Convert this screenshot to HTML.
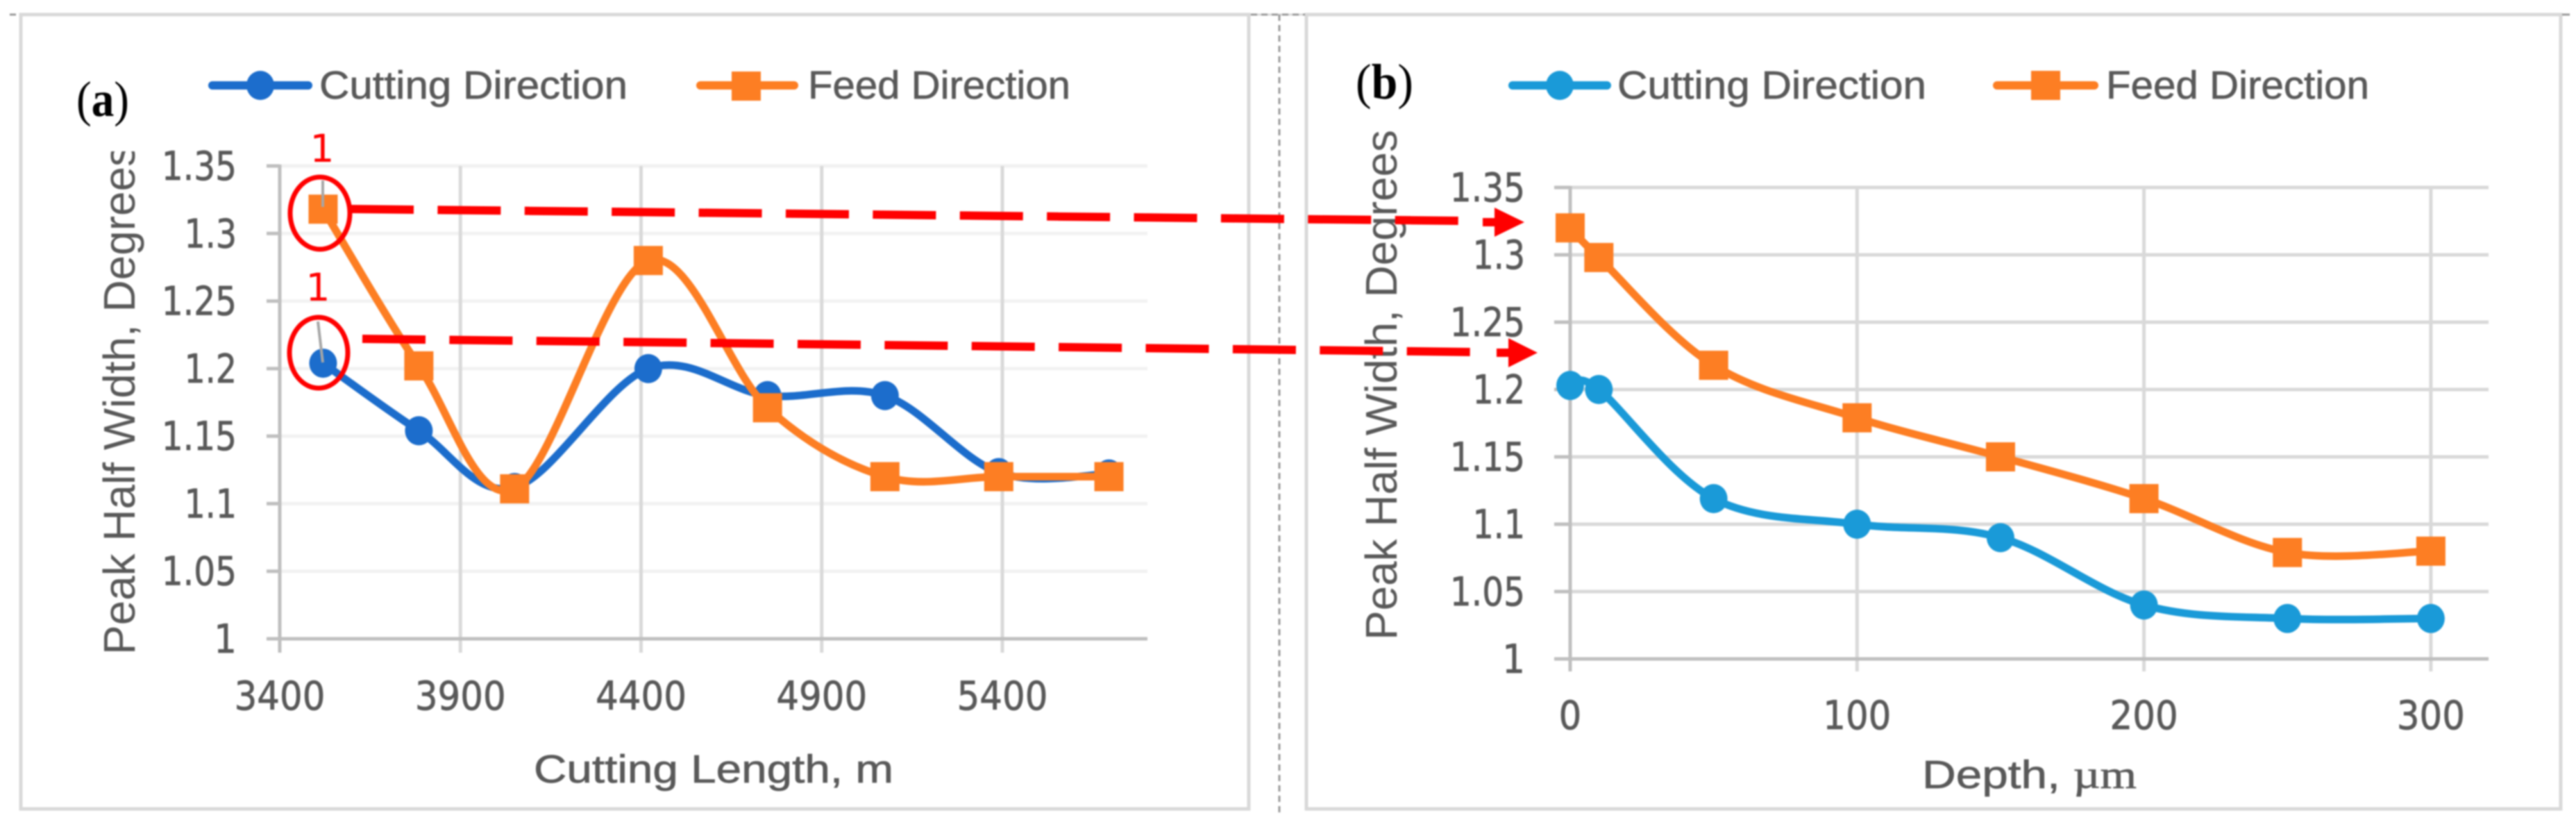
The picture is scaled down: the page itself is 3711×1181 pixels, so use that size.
<!DOCTYPE html>
<html lang="en">
<head>
<meta charset="utf-8">
<title>Peak half width vs cutting length and depth</title>
<style>
html,body{margin:0;padding:0;background:#fff;overflow:hidden;}
svg{display:block;filter:blur(1px);}
text{fill:#595959;font-family:"Liberation Sans",sans-serif;}
.tick{font-family:"DejaVu Sans","Liberation Sans",sans-serif;font-size:57px;stroke:#595959;stroke-width:0.8px;}
.heavy{stroke:#595959;stroke-width:0.7px;}
</style>
</head>
<body>
<svg id="figure" xmlns="http://www.w3.org/2000/svg" width="3711" height="1181" viewBox="0 0 3711 1181">
  <defs>
    <clipPath id="clip-title-a"><rect x="100" y="218" width="120" height="760"/></clipPath>
  </defs>
  <rect width="3711" height="1181" fill="#fff"/>

  <!-- panel frames -->
  <rect x="30" y="21" width="1769" height="1144" fill="none" stroke="#d9d9d9" stroke-width="5"/>
  <rect x="1882" y="21" width="1807" height="1144" fill="none" stroke="#d9d9d9" stroke-width="5"/>
  <line x1="1799" y1="21" x2="1882" y2="21" stroke="#d9d9d9" stroke-width="3"/>
  <line x1="14" y1="21" x2="23" y2="21" stroke="#999" stroke-width="3"/>
  <line x1="3691" y1="21" x2="3702" y2="21" stroke="#999" stroke-width="3"/>
  <line x1="1843" y1="21" x2="1843" y2="1170" stroke="#999" stroke-width="3" stroke-dasharray="9 6"/>
  <line x1="1802" y1="21" x2="1880" y2="21" stroke="#999" stroke-width="3" stroke-dasharray="9 6"/>

  <g id="chart-a"></g>
  <g id="chart-b"></g>

  <!-- y axis titles -->
  <g clip-path="url(#clip-title-a)">
    <text transform="translate(194,943) rotate(-90)" font-size="64" textLength="735" lengthAdjust="spacingAndGlyphs">Peak Half Width, Degrees</text>
  </g>
  <text transform="translate(2012,922) rotate(-90)" font-size="64" textLength="735" lengthAdjust="spacingAndGlyphs">Peak Half Width, Degrees</text>

  <!-- x axis titles -->
  <text class="heavy" x="769" y="1127" font-size="57" textLength="518" lengthAdjust="spacingAndGlyphs">Cutting Length, m</text>
  <text class="heavy" x="2769" y="1135" font-size="57" textLength="309" lengthAdjust="spacingAndGlyphs">Depth, <tspan font-family="Liberation Serif, serif">µm</tspan></text>

  <!-- panel labels -->
  <text x="110" y="167" font-size="72" textLength="76" lengthAdjust="spacingAndGlyphs" style="font-family:'Liberation Serif',serif;fill:#000">(<tspan font-weight="bold">a</tspan>)</text>
  <text x="1953" y="142" font-size="72" textLength="83" lengthAdjust="spacingAndGlyphs" style="font-family:'Liberation Serif',serif;fill:#000">(<tspan font-weight="bold">b</tspan>)</text>

  <!-- legends -->
  <g>
    <g>
      <line x1="306" y1="123" x2="444" y2="123" stroke="#1c6dcc" stroke-width="12" stroke-linecap="round"/>
      <ellipse cx="375" cy="123" rx="20" ry="21" fill="#1c6dcc"/>
      <text class="heavy" x="460" y="142" font-size="57" textLength="444" lengthAdjust="spacingAndGlyphs">Cutting Direction</text>
    </g>
    <g>
      <line x1="1009" y1="123" x2="1144" y2="123" stroke="#fd7e23" stroke-width="12" stroke-linecap="round"/>
      <rect x="1054" y="103" width="42" height="42" fill="#fd7e23"/>
      <text class="heavy" x="1164" y="142" font-size="57" textLength="378" lengthAdjust="spacingAndGlyphs">Feed Direction</text>
    </g>
  </g>
  <g>
    <g>
      <line x1="2179" y1="123" x2="2315" y2="123" stroke="#1a9ad8" stroke-width="12" stroke-linecap="round"/>
      <ellipse cx="2247" cy="123" rx="20" ry="21" fill="#1a9ad8"/>
      <text class="heavy" x="2330" y="142" font-size="57" textLength="445" lengthAdjust="spacingAndGlyphs">Cutting Direction</text>
    </g>
    <g>
      <line x1="2877" y1="123" x2="3017" y2="123" stroke="#fd7e23" stroke-width="12" stroke-linecap="round"/>
      <rect x="2926" y="102" width="42" height="42" fill="#fd7e23"/>
      <text class="heavy" x="3034" y="142" font-size="57" textLength="379" lengthAdjust="spacingAndGlyphs">Feed Direction</text>
    </g>
  </g>

  <!-- annotations -->
  <g>
    <line x1="465" y1="260" x2="465" y2="298" stroke="#a6a6a6" stroke-width="4"/>
    <line x1="458" y1="463" x2="465" y2="522" stroke="#a6a6a6" stroke-width="4"/>
    <ellipse cx="461" cy="307" rx="43" ry="52" fill="none" stroke="#ff0000" stroke-width="7"/>
    <ellipse cx="459" cy="508" rx="42" ry="51" fill="none" stroke="#ff0000" stroke-width="7"/>
    <text x="464" y="233" text-anchor="middle" font-size="55" style="font-family:'DejaVu Sans',sans-serif;fill:#ff0000">1</text>
    <text x="458" y="433" text-anchor="middle" font-size="55" style="font-family:'DejaVu Sans',sans-serif;fill:#ff0000">1</text>
    <line x1="505" y1="301" x2="2101" y2="318" stroke="#ff0000" stroke-width="12" stroke-dasharray="91 34.4"/>
    <polygon points="2136,314 2153,314 2153,299 2196,320 2153,341 2153,326 2136,326" fill="#ff0000"/>
    <line x1="522" y1="488" x2="2121" y2="507" stroke="#ff0000" stroke-width="12" stroke-dasharray="91 34.4"/>
    <polygon points="2156,502 2173,502 2173,487 2215,508 2173,529 2173,514 2156,514" fill="#ff0000"/>
  </g>
</svg>

<script>
const yTickValues = [1, 1.05, 1.1, 1.15, 1.2, 1.25, 1.3, 1.35];

const lengthTicks = [3400, 3900, 4400, 4900, 5400];
const lengthValues = [3520, 3785, 4050, 4420, 4750, 5075, 5390, 5695];
const lengthCutting = [1.204, 1.154, 1.112, 1.2, 1.18, 1.18, 1.123, 1.122];
const lengthFeed = [1.318, 1.202, 1.111, 1.28, 1.171, 1.12, 1.12, 1.12];

const depthTicks = [0, 100, 200, 300];
const depthValues = [0, 10, 50, 100, 150, 200, 250, 300];
const depthCutting = [1.203, 1.2, 1.119, 1.1, 1.09, 1.04, 1.03, 1.03];
const depthFeed = [1.32, 1.298, 1.218, 1.179, 1.15, 1.119, 1.079, 1.08];

const SVG_NS = 'http://www.w3.org/2000/svg';

function make(tag, attrs, parent) {
  const node = document.createElementNS(SVG_NS, tag);
  for (const key in attrs) node.setAttribute(key, attrs[key]);
  parent.appendChild(node);
  return node;
}

function labelWidth(str) {
  let w = 0;
  for (const ch of str) w += ch === '.' ? 10 : 32.7;
  return w;
}

function smoothPath(pts) {
  let d = 'M' + pts[0][0] + ' ' + pts[0][1];
  for (let i = 0; i < pts.length - 1; i++) {
    const p0 = pts[Math.max(i - 1, 0)];
    const p1 = pts[i];
    const p2 = pts[i + 1];
    const p3 = pts[Math.min(i + 2, pts.length - 1)];
    const c1x = p1[0] + (p2[0] - p0[0]) / 6;
    const c1y = p1[1] + (p2[1] - p0[1]) / 6;
    const c2x = p2[0] - (p3[0] - p1[0]) / 6;
    const c2y = p2[1] - (p3[1] - p1[1]) / 6;
    d += ' C' + c1x + ' ' + c1y + ' ' + c2x + ' ' + c2y + ' ' + p2[0] + ' ' + p2[1];
  }
  return d;
}

function drawAxes(root, xScale, yScale, xTicks, box) {
  yTickValues.forEach(function (v) {
    const y = yScale(v);
    if (v !== 1) {
      const grid = make('line', {x1: box.left, y1: y, x2: box.right, y2: y, stroke: box.hGrid, 'stroke-width': 5}, root);
      
      
    }
    const tick = make('line', {x1: box.tickStart, y1: y, x2: box.left, y2: y, stroke: '#bfbfbf', 'stroke-width': 5}, root);
    
    
    const str = String(v);
    const w = labelWidth(str);
    const label = make('text', {x: box.yLabelRight - w, y: y + 20, class: 'tick', textLength: w, lengthAdjust: 'spacingAndGlyphs'}, root);
    label.textContent = str;
    
    
  });
  xTicks.forEach(function (v, i) {
    const x = xScale(v);
    if (i > 0) {
      const grid = make('line', {x1: x, y1: yScale(1.35), x2: x, y2: box.tickEnd, stroke: '#d9d9d9', 'stroke-width': 5}, root);
      
      
    }
    const str = String(v);
    const w = labelWidth(str);
    const label = make('text', {x: x - w / 2, y: box.xLabelBase, class: 'tick', textLength: w, lengthAdjust: 'spacingAndGlyphs'}, root);
    label.textContent = str;
    
    
  });
  const yAxis = make('line', {x1: box.left, y1: yScale(1.35) - 2, x2: box.left, y2: box.tickEnd, stroke: '#bfbfbf', 'stroke-width': 5}, root);
  
  
  const xAxis = make('line', {x1: box.tickStart, y1: yScale(1), x2: box.right, y2: yScale(1), stroke: '#bfbfbf', 'stroke-width': 5}, root);
  
  
}

function drawCutting(root, xs, ys, xScale, yScale, color) {
  const pts = xs.map(function (v, i) { return [xScale(v), yScale(ys[i])]; });
  const line = make('path', {d: smoothPath(pts), fill: 'none', stroke: color, 'stroke-width': 11}, root);
  
  
  pts.forEach(function (p) {
    const dot = make('ellipse', {cx: p[0], cy: p[1], rx: 20, ry: 21, fill: color}, root);
    
    
  });
}

function drawFeed(root, xs, ys, xScale, yScale, color) {
  const pts = xs.map(function (v, i) { return [xScale(v), yScale(ys[i])]; });
  const line = make('path', {d: smoothPath(pts), fill: 'none', stroke: color, 'stroke-width': 11}, root);
  
  
  pts.forEach(function (p) {
    const square = make('rect', {x: p[0] - 21, y: p[1] - 21, width: 42, height: 42, fill: color}, root);
    
    
  });
}

function xLength(v) { return 403 + (v - 3400) * 0.5205; }
function yLength(v) { return 920 - (v - 1) * (681 / 0.35); }
function xDepth(v) { return 2262 + v * 4.133; }
function yDepth(v) { return 949 - (v - 1) * (679 / 0.35); }

const rootA = document.getElementById('chart-a');
drawAxes(rootA, xLength, yLength, lengthTicks, {left: 403, right: 1653, tickStart: 384, tickEnd: 940, hGrid: '#f2f2f2', yLabelRight: 341, xLabelBase: 1022});
drawCutting(rootA, lengthValues, lengthCutting, xLength, yLength, '#1c6dcc');
drawFeed(rootA, lengthValues, lengthFeed, xLength, yLength, '#fd7e23');

const rootB = document.getElementById('chart-b');
drawAxes(rootB, xDepth, yDepth, depthTicks, {left: 2262, right: 3585, tickStart: 2239, tickEnd: 967, hGrid: '#d9d9d9', yLabelRight: 2197, xLabelBase: 1050});
drawCutting(rootB, depthValues, depthCutting, xDepth, yDepth, '#1a9ad8');
drawFeed(rootB, depthValues, depthFeed, xDepth, yDepth, '#fd7e23');
</script>
</body>
</html>
